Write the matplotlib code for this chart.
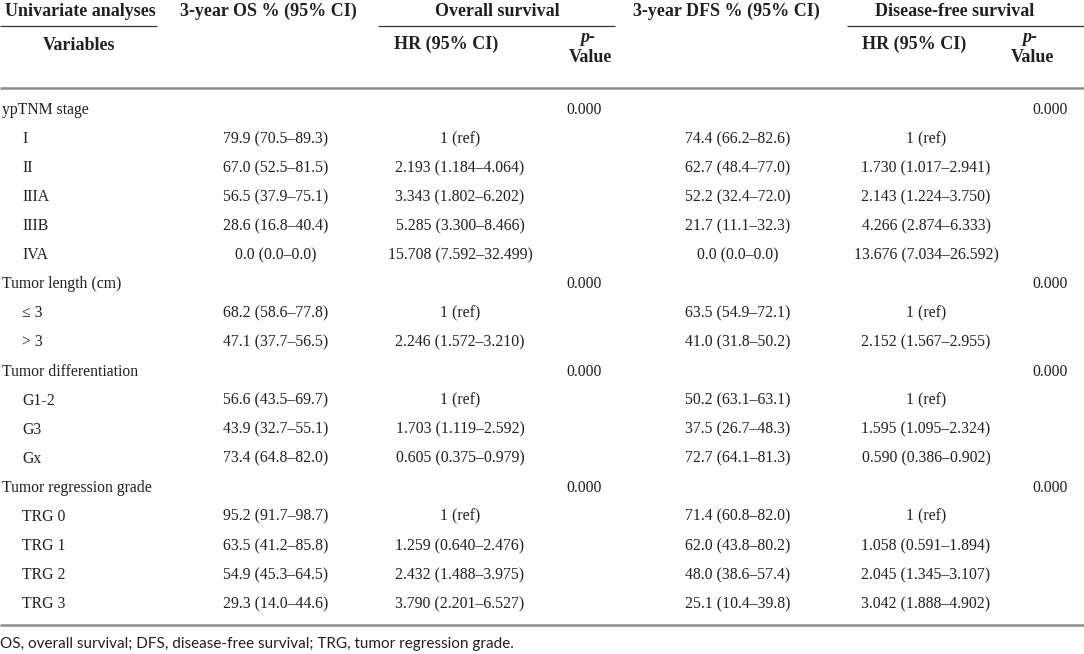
import matplotlib
matplotlib.use("Agg")
import matplotlib.pyplot as plt

variables = ["ypTNM stage", "I", "II", "IIIA", "IIIB", "IVA",
             "Tumor length (cm)", "≤ 3", "> 3",
             "Tumor differentiation", "G1-2", "G3", "Gx",
             "Tumor regression grade", "TRG 0", "TRG 1", "TRG 2", "TRG 3"]
is_group = [True, False, False, False, False, False,
            True, False, False,
            True, False, False, False,
            True, False, False, False, False]
os3 = ["", "79.9 (70.5–89.3)", "67.0 (52.5–81.5)", "56.5 (37.9–75.1)", "28.6 (16.8–40.4)", "0.0 (0.0–0.0)",
       "", "68.2 (58.6–77.8)", "47.1 (37.7–56.5)",
       "", "56.6 (43.5–69.7)", "43.9 (32.7–55.1)", "73.4 (64.8–82.0)",
       "", "95.2 (91.7–98.7)", "63.5 (41.2–85.8)", "54.9 (45.3–64.5)", "29.3 (14.0–44.6)"]
os_hr = ["", "1 (ref)", "2.193 (1.184–4.064)", "3.343 (1.802–6.202)", "5.285 (3.300–8.466)", "15.708 (7.592–32.499)",
         "", "1 (ref)", "2.246 (1.572–3.210)",
         "", "1 (ref)", "1.703 (1.119–2.592)", "0.605 (0.375–0.979)",
         "", "1 (ref)", "1.259 (0.640–2.476)", "2.432 (1.488–3.975)", "3.790 (2.201–6.527)"]
os_p = ["0.000", "", "", "", "", "",
        "0.000", "", "",
        "0.000", "", "", "",
        "0.000", "", "", "", ""]
dfs3 = ["", "74.4 (66.2–82.6)", "62.7 (48.4–77.0)", "52.2 (32.4–72.0)", "21.7 (11.1–32.3)", "0.0 (0.0–0.0)",
        "", "63.5 (54.9–72.1)", "41.0 (31.8–50.2)",
        "", "50.2 (63.1–63.1)", "37.5 (26.7–48.3)", "72.7 (64.1–81.3)",
        "", "71.4 (60.8–82.0)", "62.0 (43.8–80.2)", "48.0 (38.6–57.4)", "25.1 (10.4–39.8)"]
dfs_hr = ["", "1 (ref)", "1.730 (1.017–2.941)", "2.143 (1.224–3.750)", "4.266 (2.874–6.333)", "13.676 (7.034–26.592)",
          "", "1 (ref)", "2.152 (1.567–2.955)",
          "", "1 (ref)", "1.595 (1.095–2.324)", "0.590 (0.386–0.902)",
          "", "1 (ref)", "1.058 (0.591–1.894)", "2.045 (1.345–3.107)", "3.042 (1.888–4.902)"]
dfs_p = ["0.000", "", "", "", "", "",
         "0.000", "", "",
         "0.000", "", "", "",
         "0.000", "", "", "", ""]
footnote = "OS, overall survival; DFS, disease-free survival; TRG, tumor regression grade."

W, H = 1084, 654
fig = plt.figure(figsize=(W / 100, H / 100), dpi=100)
ax = fig.add_axes([0, 0, 1, 1])
ax.set_xlim(0, W)
ax.set_ylim(H, 0)
ax.axis("off")

TXT = "#231f20"
SERIF = "Liberation Serif"
body = dict(family=SERIF, fontsize=11.3, color=TXT, va="center")
head = dict(family=SERIF, fontsize=13.0, color=TXT, va="center", fontweight="bold")

# header row 1
ax.text(80, 11, "Univariate analyses", ha="center", **head)
ax.text(268, 11, "3-year OS % (95% CI)", ha="center", **head)
ax.text(497, 11, "Overall survival", ha="center", **head)
ax.text(726, 11, "3-year DFS % (95% CI)", ha="center", **head)
ax.text(955, 11, "Disease-free survival", ha="center", **head)
# underlines
for x0, x1 in [(0, 157), (378, 615), (847, 1084)]:
    ax.plot([x0, x1], [26, 26], color="#333333", lw=0.9, solid_capstyle="butt")
# header row 2
ax.text(79, 45, "Variables", ha="center", **head)
ax.text(446, 44, "HR (95% CI)", ha="center", **head)
ax.text(914, 44, "HR (95% CI)", ha="center", **head)
for xc in (590, 1032):
    ax.text(xc - 2, 38, "p-", ha="center", fontstyle="italic", **head)
    ax.text(xc, 57, "Value", ha="center", **head)

ax.plot([0, W], [88, 88], color="#8c8c8c", lw=1.8, solid_capstyle="butt")

y0, dy = 110, 29.06
for i, v in enumerate(variables):
    y = y0 + i * dy
    ax.text(2 if is_group[i] else 22, y, v, ha="left", **body)
    ax.text(276, y, os3[i], ha="center", **body)
    ax.text(460, y, os_hr[i], ha="center", **body)
    ax.text(584, y, os_p[i], ha="center", **body)
    ax.text(738, y, dfs3[i], ha="center", **body)
    ax.text(926, y, dfs_hr[i], ha="center", **body)
    ax.text(1050, y, dfs_p[i], ha="center", **body)

ax.plot([0, W], [625, 625], color="#8c8c8c", lw=1.8, solid_capstyle="butt")
ax.text(0, 644, footnote, ha="left", va="center", family="Lato", fontsize=11, color=TXT)

fig.savefig("out.png", dpi=100)
